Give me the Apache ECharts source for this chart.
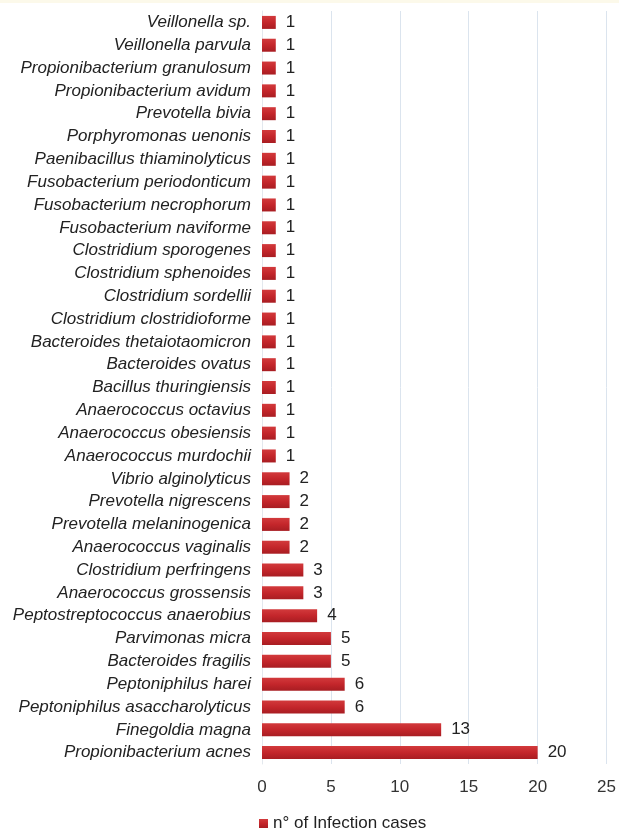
<!DOCTYPE html>
<html>
<head>
<meta charset="utf-8">
<script src="https://cdn.jsdelivr.net/npm/echarts@6/dist/echarts.min.js"></script>
<style>
  html, body { margin: 0; padding: 0; background: #fff; }
  #main { width: 619px; height: 832px; }
</style>
</head>
<body>
<div id="main"></div>
<script>
// species, top to bottom
var categories = [
    'Veillonella sp.', 'Veillonella parvula', 'Propionibacterium granulosum',
    'Propionibacterium avidum', 'Prevotella bivia', 'Porphyromonas uenonis',
    'Paenibacillus thiaminolyticus', 'Fusobacterium periodonticum',
    'Fusobacterium necrophorum', 'Fusobacterium naviforme', 'Clostridium sporogenes',
    'Clostridium sphenoides', 'Clostridium sordellii', 'Clostridium clostridioforme',
    'Bacteroides thetaiotaomicron', 'Bacteroides ovatus', 'Bacillus thuringiensis',
    'Anaerococcus octavius', 'Anaerococcus obesiensis', 'Anaerococcus murdochii',
    'Vibrio alginolyticus', 'Prevotella nigrescens', 'Prevotella melaninogenica',
    'Anaerococcus vaginalis', 'Clostridium perfringens', 'Anaerococcus grossensis',
    'Peptostreptococcus anaerobius', 'Parvimonas micra', 'Bacteroides fragilis',
    'Peptoniphilus harei', 'Peptoniphilus asaccharolyticus', 'Finegoldia magna',
    'Propionibacterium acnes'
];
var cases = [
    1, 1, 1, 1, 1, 1, 1, 1, 1, 1, 1, 1, 1, 1, 1, 1, 1, 1, 1, 1,
    2, 2, 2, 2, 3, 3, 4, 5, 5, 6, 6, 13, 20
];
var xTicks = [0, 5, 10, 15, 20, 25];

var dom = document.getElementById('main');
var myChart = echarts.init(dom);

var option = {
    backgroundColor: '#ffffff',
    animation: false,
    graphic: [{
        type: 'rect',
        shape: { x: 0, y: 0, width: 619, height: 3 },
        style: { fill: '#fcf9ea' },
        silent: true
    }],
    grid: {
        left: 262,
        right: 11,
        top: 11,
        bottom: 68
    },
    legend: {
        top: 810,
        left: 254,
        itemWidth: 9,
        itemHeight: 9,
        itemGap: 4,
        icon: 'rect',
        textStyle: { fontFamily: 'Liberation Sans', fontSize: 17, color: '#222' },
        data: ['n° of Infection cases']
    },
    xAxis: {
        type: 'value',
        min: xTicks[0],
        max: xTicks[xTicks.length - 1],
        interval: 5,
        axisLine: { show: false },
        axisTick: { show: false },
        axisLabel: {
            margin: 15,
            fontFamily: 'Liberation Sans',
            fontSize: 17,
            color: '#333'
        },
        splitLine: { lineStyle: { color: '#dbe4ee', width: 1 } }
    },
    yAxis: {
        type: 'category',
        inverse: true,
        data: categories,
        axisLine: { show: true, lineStyle: { color: '#e3e8ee' } },
        axisTick: { show: false },
        axisLabel: {
            margin: 11,
            fontFamily: 'Liberation Sans',
            fontStyle: 'italic',
            fontSize: 17,
            color: '#222'
        }
    },
    series: [{
        name: 'n° of Infection cases',
        type: 'bar',
        data: cases,
        barWidth: 13,
        itemStyle: {
            color: new echarts.graphic.LinearGradient(0, 0, 0, 1, [
                { offset: 0, color: '#d23a3c' },
                { offset: 0.5, color: '#c4262b' },
                { offset: 1, color: '#a81d22' }
            ])
        },
        label: {
            show: true,
            position: 'right',
            distance: 10,
            fontFamily: 'Liberation Sans',
            fontSize: 17,
            color: '#222'
        }
    }]
};
if (option && typeof option === "object") {
    myChart.setOption(option, true);
}
</script>
</body>
</html>
